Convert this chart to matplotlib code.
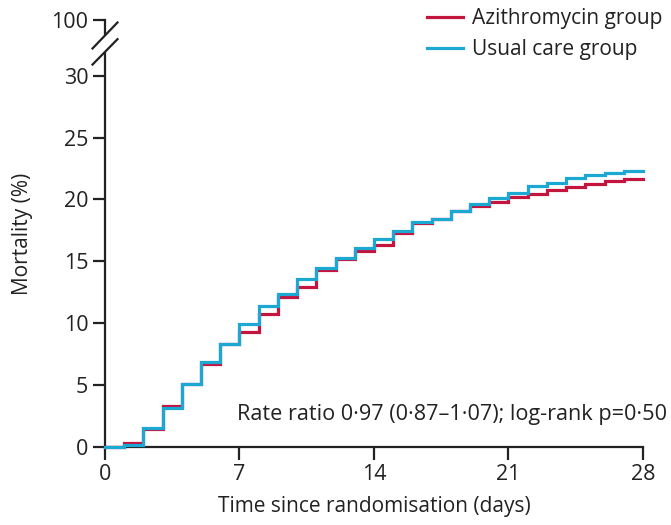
import matplotlib
matplotlib.use("Agg")
import matplotlib.pyplot as plt

plt.rcParams['font.family'] = ['Open Sans', 'DejaVu Sans']

days = list(range(0, 29))
azithro = [0, 0.32, 1.42, 3.35, 5.12, 6.74, 8.3, 9.3, 10.78, 12.13, 12.94, 14.28,
           15.17, 15.85, 16.3, 17.3, 18.1, 18.46, 19.08, 19.46, 19.81, 20.16,
           20.48, 20.78, 21.0, 21.25, 21.48, 21.68]
usual = [0, 0.16, 1.55, 3.15, 5.12, 6.87, 8.3, 9.92, 11.37, 12.34, 13.56, 14.47,
         15.28, 16.04, 16.79, 17.46, 18.14, 18.46, 19.08, 19.6, 20.08, 20.54,
         21.05, 21.35, 21.7, 21.95, 22.1, 22.3]
xticks = [0, 7, 14, 21, 28]
yticks = [0, 5, 10, 15, 20, 25, 30]
ytick_labels = ['0', '5', '10', '15', '20', '25', '30']
top_label = '100'
series_names = ['Azithromycin group', 'Usual care group']
colors = ['#c4153f', '#1ba8d2']
annotation = 'Rate ratio 0·97 (0·87–1·07); log-rank p=0·50'

TOP = 34.5  # position on the axis where the broken "100" tick sits
FS = 15

fig = plt.figure(figsize=(6.71, 5.25), dpi=100)
ax = fig.add_axes([105 / 671, 78 / 525, 538 / 671, 427 / 525])

lw = 2.3
l1, = ax.step(days, azithro + [azithro[-1]], where='post', color=colors[0], lw=lw,
              clip_on=False, zorder=3, solid_joinstyle='miter')
l2, = ax.step(days, usual + [usual[-1]], where='post', color=colors[1], lw=lw,
              clip_on=False, zorder=4, solid_joinstyle='miter')

ax.set_xlim(0, 28)
ax.set_ylim(0, TOP)
ax.set_xticks(xticks)
ax.set_xticklabels([str(t) for t in xticks])
ax.set_yticks(yticks + [TOP])
ax.set_yticklabels(ytick_labels + [top_label])

for s in ['top', 'right']:
    ax.spines[s].set_visible(False)
for s in ['left', 'bottom']:
    ax.spines[s].set_linewidth(1.6)
    ax.spines[s].set_color('#222222')
ax.spines['left'].set_bounds(0, 31.8)

ax.tick_params(axis='both', length=9, width=1.6, color='#222222',
               labelsize=15.5, labelcolor='#222222')
ax.tick_params(axis='y', pad=3)
ax.tick_params(axis='x', pad=3)

# axis break
kw = dict(color='#222222', lw=1.6, clip_on=False, zorder=5)
ax.plot([0, 0], [33.4, TOP], **kw)
ax.plot([-0.65, 0.65], [32.2, 34.3], **kw)
ax.plot([-0.65, 0.65], [30.9, 32.95], **kw)

ax.set_xlabel('Time since randomisation (days)', fontsize=FS, color='#222222', labelpad=8)
ax.set_ylabel('Mortality (%)', fontsize=FS, color='#222222', labelpad=13)

ax.text(6.85, 2.6, annotation, fontsize=15.6, color='#222222', va='center', ha='left')

leg = fig.legend([l1, l2], series_names, loc='upper left',
                 bbox_to_anchor=(427 / 671, 1 - 8 / 525), bbox_transform=fig.transFigure,
                 frameon=False, fontsize=FS, handlelength=1.75, handletextpad=0.4,
                 labelspacing=0.5, borderpad=0.0, borderaxespad=0.0)
for t in leg.get_texts():
    t.set_color('#222222')

fig.savefig('out.png', dpi=100)
